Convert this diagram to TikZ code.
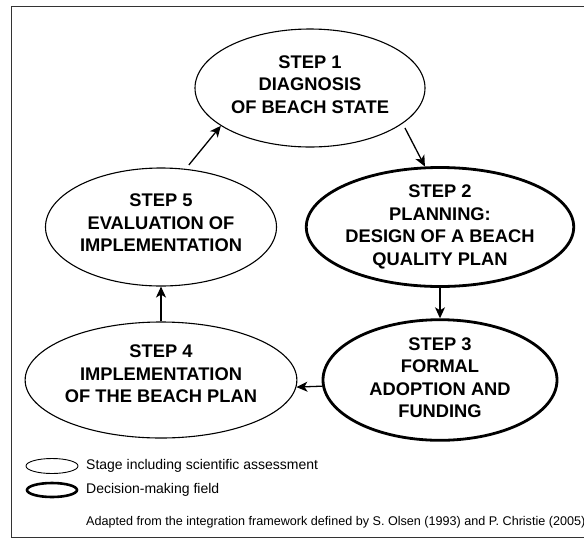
\documentclass[tikz,border=0pt]{standalone}
\usepackage{fontspec}
\setmainfont{Liberation Sans}
\usetikzlibrary{shapes.geometric,arrows.meta}
% extra depth under the last line lifts a label a little inside its ellipse
\newcommand\liftpad[1]{\rule[-#1]{0pt}{#1}}
\begin{document}
\begin{tikzpicture}[x=1pt,y=-1pt,
  stage/.style={ellipse,draw,line width=1.1pt,inner sep=0pt,
    align=center,font=\fontsize{18.3}{22.5}\selectfont\bfseries},
  decision/.style={stage,line width=2.8pt},
  arr/.style={line width=1.3pt,-{Stealth[length=11pt,width=10pt,inset=3pt]}},
  legendtext/.style={anchor=west,inner sep=0pt,font=\fontsize{14}{16}\selectfont},
  frame/.style={line width=1pt,black!80}]
\useasboundingbox (0,0) rectangle (584,539);
% outer frame (open on the right)
\draw[frame] (590,6) -- (11,6) -- (11,537) -- (590,537);

% stages
\node[stage,minimum width=230pt,minimum height=118pt] (s1) at (310,88)
  {STEP 1\\DIAGNOSIS\\OF BEACH STATE\liftpad{7pt}};
\node[decision,minimum width=232pt,minimum height=119pt] (s2) at (440,227)
  {STEP 2\\PLANNING:\\DESIGN OF A BEACH\\QUALITY PLAN};
\node[decision,minimum width=234pt,minimum height=116pt] (s3) at (440,380)
  {STEP 3\\FORMAL\\ADOPTION AND\\FUNDING\liftpad{5pt}};
\node[stage,minimum width=231pt,minimum height=116pt] (s4) at (161,380)
  {STEP 4\\IMPLEMENTATION\\OF THE BEACH PLAN\liftpad{12pt}};
\node[stage,minimum width=231pt,minimum height=118pt] (s5) at (161,227)
  {STEP 5\\EVALUATION OF\\IMPLEMENTATION\liftpad{8pt}};

% cycle
\draw[arr,shorten <=5pt] (s1.-21) -- (s2.104);
\draw[arr] (s2.south) -- (s3.north);
\draw[arr] (s3.183.5) -- (s4.-3.5);
\draw[arr] (s4.north) -- (s5.south);
\draw[arr,shorten <=5pt] (s5.67) -- (s1.203.3);

% legend
\node[ellipse,draw,line width=0.9pt,minimum width=52pt,minimum height=15pt,inner sep=0pt] (l1) at (52,466) {};
\node[ellipse,draw,line width=2.6pt,minimum width=50pt,minimum height=14pt,inner sep=0pt] (l2) at (52,490) {};
\node[legendtext] (t1) at (86,466) {Stage including scientific assessment};
\node[legendtext] (t2) at (86,490) {Decision-making field};
\node[legendtext,font=\fontsize{12.6}{14}\selectfont] (src) at (86,522)
  {Adapted from the integration framework defined by S. Olsen (1993) and P. Christie (2005)};
\end{tikzpicture}
\end{document}
